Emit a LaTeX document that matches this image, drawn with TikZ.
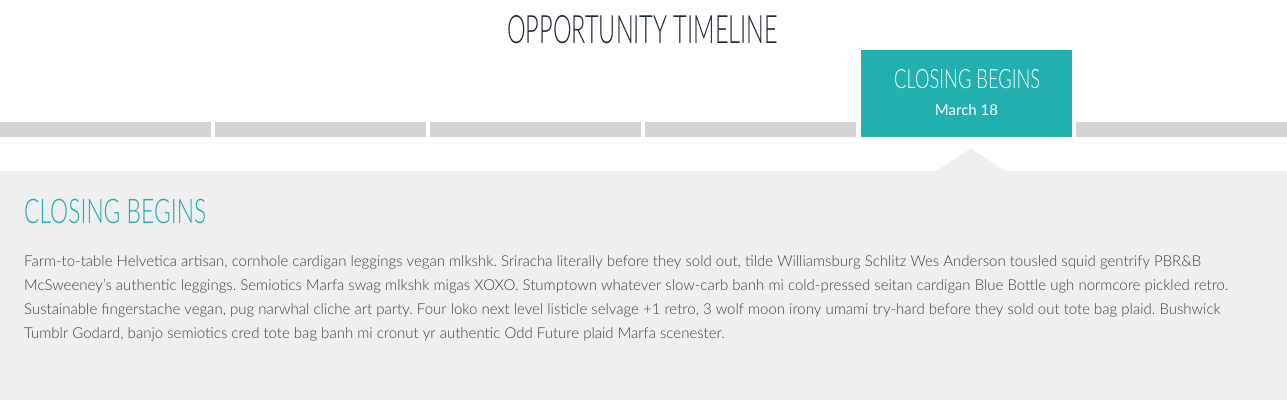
\documentclass[tikz,border=0pt]{standalone}
\usepackage{fontspec}
\setmainfont{Lato Light}
\newfontfamily\latoreg{Lato}
\usepackage{graphicx}
\frenchspacing
\definecolor{teal1}{HTML}{21AFAF}
\definecolor{bargray}{HTML}{D4D4D4}
\definecolor{panelgray}{HTML}{EFEFEF}
\definecolor{titlecol}{HTML}{1C2A33}
\definecolor{bodycol}{HTML}{404040}
\tikzset{
  bar/.style={fill=bargray, draw=none, inner sep=0pt, minimum width=211pt, minimum height=15pt, anchor=north west},
  active/.style={fill=teal1, draw=none, inner sep=0pt, minimum width=211pt, minimum height=87pt, anchor=north west},
  bodyline/.style={anchor=base west, inner sep=0pt, text=bodycol, font=\frenchspacing\fontsize{15}{18}\selectfont},
  cond/.style={inner sep=0pt, anchor=base west}
}
\begin{document}
\begin{tikzpicture}[x=1pt,y=-1pt]
\useasboundingbox (0,0) rectangle (1287,400);
\fill[white] (0,0) rectangle (1287,400);
% title
\node[cond, text=titlecol] (title) at (507,43) {\resizebox{271pt}{28pt}{OPPORTUNITY TIMELINE}};
% timeline bars
\node[bar] (b1) at (0,122) {};
\node[bar] (b2) at (215,122) {};
\node[bar] (b3) at (430,122) {};
\node[bar] (b4) at (645,122) {};
\node[active] (b5) at (861,50) {};
\node[bar] (b6) at (1076,122) {};
\node[cond, text=white] (b5title) at (894,88.3) {\resizebox{146pt}{19pt}{CLOSING BEGINS}};
\node[anchor=base, inner sep=0pt, text=white, font=\latoreg\fontsize{15}{18}\selectfont] (b5date) at (966.5,115) {March 18};
% panel
\fill[panelgray] (0,171) rectangle (1287,400);
\fill[panelgray] (936,171.5) -- (971,148.3) -- (1006,171.5) -- cycle;
\node[cond, text=teal1] (heading) at (24,223.3) {\resizebox{182pt}{24.3pt}{CLOSING BEGINS}};
\node[bodyline] (l1) at (24,266) {Farm-to-table Helvetica artisan, cornhole cardigan leggings vegan mlkshk. Sriracha literally before they sold out, tilde Williamsburg Schlitz Wes Anderson tousled squid gentrify PBR\&B};
\node[bodyline] (l2) at (24,290) {McSweeney's authentic leggings. Semiotics Marfa swag mlkshk migas XOXO. Stumptown whatever slow-carb banh mi cold-pressed seitan cardigan Blue Bottle ugh normcore pickled retro.};
\node[bodyline] (l3) at (24,314) {Sustainable fingerstache vegan, pug narwhal cliche art party. Four loko next level listicle selvage +1 retro, 3 wolf moon irony umami try-hard before they sold out tote bag plaid. Bushwick};
\node[bodyline] (l4) at (24,338) {Tumblr Godard, banjo semiotics cred tote bag banh mi cronut yr authentic Odd Future plaid Marfa scenester.};
\end{tikzpicture}
\end{document}
